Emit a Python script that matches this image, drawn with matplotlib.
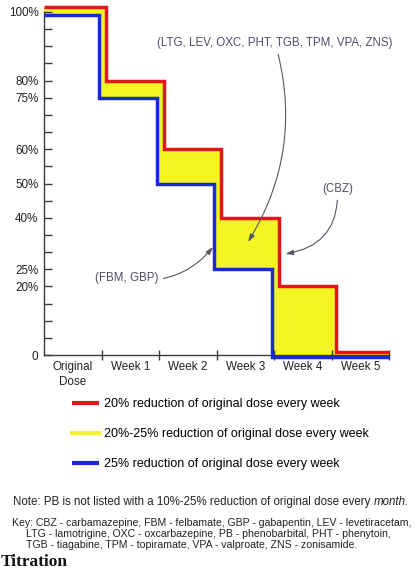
import numpy as np
import matplotlib
matplotlib.use('Agg')
import matplotlib.pyplot as plt
from matplotlib.lines import Line2D

plt.rcParams['font.family'] = ['Liberation Sans', 'DejaVu Sans']

# data
periods = ['Original\nDose', 'Week 1', 'Week 2', 'Week 3', 'Week 4', 'Week 5']
red_levels = np.array([101.5, 80, 60, 40, 20, 1])     # 20% per week
blue_levels = np.array([99, 75, 50, 25, -0.5, -0.5])  # 25% per week
ytick_vals = np.arange(0, 101, 5)
ytick_labels = {0: '0', 20: '20%', 25: '25%', 40: '40%', 50: '50%',
                60: '60%', 75: '75%', 80: '80%', 100: '100%'}

legend_labels = ['20% reduction of original dose every week',
                 '20%-25% reduction of original dose every week',
                 '25% reduction of original dose every week']
note_text = 'Note: PB is not listed with a 10%-25% reduction of original dose every '
key_lines = ['Key: CBZ - carbamazepine, FBM - felbamate, GBP - gabapentin, LEV - levetiracetam,',
             'LTG - lamotrigine, OXC - oxcarbazepine, PB - phenobarbital, PHT - phenytoin,',
             'TGB - tiagabine, TPM - topiramate, VPA - valproate, ZNS - zonisamide.']

RED = '#e3161e'
YELLOW = '#f2f522'
BLUE = '#1a2ccc'
NOTE_COL = '#4d4d68'
AX_COL = '#3a3a3a'
TXT = '#222222'

# small horizontal nudges so the two step lines don't sit on top of each other
red_dx, blue_dx = 0.08, -0.04

W, H = 418, 575
fig = plt.figure(figsize=(W / 100, H / 100), dpi=100)
ax = fig.add_axes([44 / W, 1 - 355 / H, 345 / W, 343 / H])

n = len(periods)
edges_red = np.arange(1, n) + red_dx
edges_blue = np.arange(1, n) + blue_dx

# yellow band between the two schedules
xs = np.sort(np.concatenate([[0], edges_red, edges_blue, [n]]))
r_at = red_levels[np.minimum(np.searchsorted(edges_red, xs, side='right'), n - 1)]
b_at = blue_levels[np.minimum(np.searchsorted(edges_blue, xs, side='right'), n - 1)]
ax.fill_between(xs, b_at, r_at, step='post', color=YELLOW, lw=0, zorder=1, clip_on=False)

x_red = np.concatenate([[0], edges_red, [n]])
x_blue = np.concatenate([[0], edges_blue, [n]])
l_red, = ax.step(x_red, np.append(red_levels, red_levels[-1]), where='post', color=RED,
                 lw=2.5, solid_joinstyle='miter', solid_capstyle='butt', zorder=3, clip_on=False)
l_blue, = ax.step(x_blue, np.append(blue_levels, blue_levels[-1]), where='post', color=BLUE,
                  lw=2.5, solid_joinstyle='miter', solid_capstyle='butt', zorder=3, clip_on=False)

ax.set_xlim(0, n)
ax.set_ylim(0, 100)
for s in ['top', 'right']:
    ax.spines[s].set_visible(False)
for s in ['left', 'bottom']:
    ax.spines[s].set_color(AX_COL)
    ax.spines[s].set_linewidth(1.0)

ax.set_yticks(ytick_vals)
ax.set_yticklabels([ytick_labels.get(int(v), '') for v in ytick_vals])
ax.tick_params(axis='y', direction='in', length=6, width=1, color=AX_COL, pad=4,
               labelsize=8.4, labelcolor=TXT)

ax.set_xticks(np.arange(1, n + 1))
ax.set_xticklabels([])
ax.tick_params(axis='x', which='major', direction='inout', length=7.5, width=1, color=AX_COL)
ax.set_xticks(np.arange(n) + 0.5, minor=True)
ax.set_xticklabels(periods, minor=True)
ax.tick_params(axis='x', which='minor', length=0, pad=4.5, labelsize=8.4, labelcolor=TXT)
for t in ax.get_xticklabels(minor=True):
    t.set_linespacing(1.3)

# callouts
arrow = dict(arrowstyle='-|>,head_length=0.55,head_width=0.18', color='#555566', lw=0.8,
             shrinkA=2, shrinkB=0)
ax.annotate('(LTG, LEV, OXC, PHT, TGB, TPM, VPA, ZNS)', xy=(3.55, 33), xytext=(4.02, 91),
            ha='center', va='center', fontsize=8.3, color=NOTE_COL,
            arrowprops=dict(arrow, connectionstyle='arc3,rad=-0.22'))
ax.annotate('(CBZ)', xy=(4.2, 29.5), xytext=(5.1, 48.5),
            ha='center', va='center', fontsize=8.3, color=NOTE_COL,
            arrowprops=dict(arrow, connectionstyle='arc3,rad=-0.45'))
ax.annotate('(FBM, GBP)', xy=(2.94, 31.5), xytext=(1.43, 22.5),
            ha='center', va='center', fontsize=8.3, color=NOTE_COL,
            arrowprops=dict(arrow, connectionstyle='arc3,rad=0.3'))

# legend
yel_handle = Line2D([], [], color=YELLOW, lw=3)
leg = fig.legend([l_red, yel_handle, l_blue], legend_labels, loc='upper left',
                 bbox_to_anchor=(66 / W, 1 - 392 / H), frameon=False, fontsize=9,
                 handlelength=2.1, handletextpad=0.4, labelspacing=1.45, borderpad=0)
for h in leg.legend_handles:
    h.set_linewidth(3)

# note and key
t = fig.text(13 / W, 1 - 502 / H, note_text, fontsize=8.3, color=TXT, va='center')
ax.annotate('month.', xy=(1, 0.5), xycoords=t, va='center', ha='left', fontsize=8.3,
            color=TXT, style='italic', annotation_clip=False)

key_x = [12, 26, 26]
key_y = [523, 534, 545]
for txt, kx, ky in zip(key_lines, key_x, key_y):
    fig.text(kx / W, 1 - ky / H, txt, fontsize=7.6, color=TXT, va='center')

fig.text(1 / W, 1 - 562 / H, 'Titration', fontsize=12.5, fontweight='bold',
         family=['Liberation Serif', 'DejaVu Serif'], va='center', color='#111111')

fig.savefig('out.png', dpi=100)
